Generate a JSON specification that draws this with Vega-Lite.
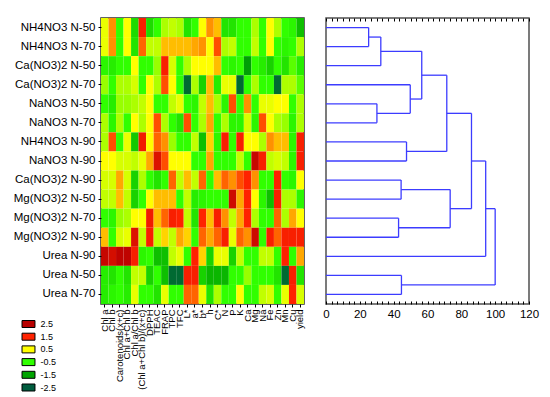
{
"$schema": "https://vega.github.io/schema/vega-lite/v6.json",
"background": "white",
"padding": {"left": 12, "top": 16, "right": 5, "bottom": 0},
"bounds": "flush",
"spacing": 22,
"config": {"font": "Liberation Sans", "axis": {"labelColor": "black", "tickColor": "black"}},
"hconcat": [
{
"width": 203, "height": 286,
"view": {"stroke": "#303030", "strokeWidth": 1.5},
"layer": [
{
"data": {"values": [
{"row":"NH4NO3 N-50","col":"Chl a","z":0.4},{"row":"NH4NO3 N-50","col":"Chl b","z":1.0},{"row":"NH4NO3 N-50","col":"Carotenoids(x+c)","z":-0.5},{"row":"NH4NO3 N-50","col":"Chl a+Chl b","z":0.5},{"row":"NH4NO3 N-50","col":"Chl a/Chl b","z":-0.9},{"row":"NH4NO3 N-50","col":"(Chl a+Chl b)/(x+c)","z":1.6},{"row":"NH4NO3 N-50","col":"DPPH","z":-0.9},{"row":"NH4NO3 N-50","col":"TEAC","z":-0.5},{"row":"NH4NO3 N-50","col":"FRAP","z":0.1},{"row":"NH4NO3 N-50","col":"TPC","z":0.2},{"row":"NH4NO3 N-50","col":"TFC","z":0.1},{"row":"NH4NO3 N-50","col":"L*","z":-0.8},{"row":"NH4NO3 N-50","col":"a*","z":-0.5},{"row":"NH4NO3 N-50","col":"b*","z":0.5},{"row":"NH4NO3 N-50","col":"h","z":1.0},{"row":"NH4NO3 N-50","col":"C*","z":0.8},{"row":"NH4NO3 N-50","col":"N","z":-0.8},{"row":"NH4NO3 N-50","col":"P","z":-0.8},{"row":"NH4NO3 N-50","col":"K","z":-0.5},{"row":"NH4NO3 N-50","col":"Ca","z":-0.5},{"row":"NH4NO3 N-50","col":"Mg","z":0.1},{"row":"NH4NO3 N-50","col":"Na","z":-0.5},{"row":"NH4NO3 N-50","col":"Fe","z":0.5},{"row":"NH4NO3 N-50","col":"Zn","z":0.1},{"row":"NH4NO3 N-50","col":"Mn","z":-0.5},{"row":"NH4NO3 N-50","col":"Cu","z":-0.6},{"row":"NH4NO3 N-50","col":"yield","z":-1.2},
{"row":"NH4NO3 N-70","col":"Chl a","z":0.4},{"row":"NH4NO3 N-70","col":"Chl b","z":1.0},{"row":"NH4NO3 N-70","col":"Carotenoids(x+c)","z":-0.5},{"row":"NH4NO3 N-70","col":"Chl a+Chl b","z":0.5},{"row":"NH4NO3 N-70","col":"Chl a/Chl b","z":-0.8},{"row":"NH4NO3 N-70","col":"(Chl a+Chl b)/(x+c)","z":1.2},{"row":"NH4NO3 N-70","col":"DPPH","z":0.2},{"row":"NH4NO3 N-70","col":"TEAC","z":0.2},{"row":"NH4NO3 N-70","col":"FRAP","z":0.8},{"row":"NH4NO3 N-70","col":"TPC","z":0.8},{"row":"NH4NO3 N-70","col":"TFC","z":0.8},{"row":"NH4NO3 N-70","col":"L*","z":0.8},{"row":"NH4NO3 N-70","col":"a*","z":0.9},{"row":"NH4NO3 N-70","col":"b*","z":1.0},{"row":"NH4NO3 N-70","col":"h","z":0.5},{"row":"NH4NO3 N-70","col":"C*","z":1.3},{"row":"NH4NO3 N-70","col":"N","z":0.1},{"row":"NH4NO3 N-70","col":"P","z":0.2},{"row":"NH4NO3 N-70","col":"K","z":-0.5},{"row":"NH4NO3 N-70","col":"Ca","z":-0.5},{"row":"NH4NO3 N-70","col":"Mg","z":0.2},{"row":"NH4NO3 N-70","col":"Na","z":-0.5},{"row":"NH4NO3 N-70","col":"Fe","z":0.5},{"row":"NH4NO3 N-70","col":"Zn","z":-0.5},{"row":"NH4NO3 N-70","col":"Mn","z":-0.6},{"row":"NH4NO3 N-70","col":"Cu","z":-0.5},{"row":"NH4NO3 N-70","col":"yield","z":0.1},
{"row":"Ca(NO3)2 N-50","col":"Chl a","z":-0.6},{"row":"Ca(NO3)2 N-50","col":"Chl b","z":-0.7},{"row":"Ca(NO3)2 N-50","col":"Carotenoids(x+c)","z":-0.5},{"row":"Ca(NO3)2 N-50","col":"Chl a+Chl b","z":-0.5},{"row":"Ca(NO3)2 N-50","col":"Chl a/Chl b","z":0.5},{"row":"Ca(NO3)2 N-50","col":"(Chl a+Chl b)/(x+c)","z":-0.5},{"row":"Ca(NO3)2 N-50","col":"DPPH","z":-0.5},{"row":"Ca(NO3)2 N-50","col":"TEAC","z":0.0},{"row":"Ca(NO3)2 N-50","col":"FRAP","z":1.6},{"row":"Ca(NO3)2 N-50","col":"TPC","z":0.3},{"row":"Ca(NO3)2 N-50","col":"TFC","z":-0.5},{"row":"Ca(NO3)2 N-50","col":"L*","z":0.1},{"row":"Ca(NO3)2 N-50","col":"a*","z":0.5},{"row":"Ca(NO3)2 N-50","col":"b*","z":0.5},{"row":"Ca(NO3)2 N-50","col":"h","z":0.5},{"row":"Ca(NO3)2 N-50","col":"C*","z":0.8},{"row":"Ca(NO3)2 N-50","col":"N","z":-0.5},{"row":"Ca(NO3)2 N-50","col":"P","z":-0.6},{"row":"Ca(NO3)2 N-50","col":"K","z":-0.5},{"row":"Ca(NO3)2 N-50","col":"Ca","z":-1.6},{"row":"Ca(NO3)2 N-50","col":"Mg","z":-0.5},{"row":"Ca(NO3)2 N-50","col":"Na","z":-0.7},{"row":"Ca(NO3)2 N-50","col":"Fe","z":-1.0},{"row":"Ca(NO3)2 N-50","col":"Zn","z":-0.5},{"row":"Ca(NO3)2 N-50","col":"Mn","z":-0.8},{"row":"Ca(NO3)2 N-50","col":"Cu","z":-0.3},{"row":"Ca(NO3)2 N-50","col":"yield","z":-0.7},
{"row":"Ca(NO3)2 N-70","col":"Chl a","z":0.0},{"row":"Ca(NO3)2 N-70","col":"Chl b","z":-0.5},{"row":"Ca(NO3)2 N-70","col":"Carotenoids(x+c)","z":0.1},{"row":"Ca(NO3)2 N-70","col":"Chl a+Chl b","z":0.1},{"row":"Ca(NO3)2 N-70","col":"Chl a/Chl b","z":0.3},{"row":"Ca(NO3)2 N-70","col":"(Chl a+Chl b)/(x+c)","z":-0.5},{"row":"Ca(NO3)2 N-70","col":"DPPH","z":0.5},{"row":"Ca(NO3)2 N-70","col":"TEAC","z":0.1},{"row":"Ca(NO3)2 N-70","col":"FRAP","z":1.3},{"row":"Ca(NO3)2 N-70","col":"TPC","z":0.5},{"row":"Ca(NO3)2 N-70","col":"TFC","z":-0.5},{"row":"Ca(NO3)2 N-70","col":"L*","z":-2.3},{"row":"Ca(NO3)2 N-70","col":"a*","z":0.1},{"row":"Ca(NO3)2 N-70","col":"b*","z":-1.0},{"row":"Ca(NO3)2 N-70","col":"h","z":0.8},{"row":"Ca(NO3)2 N-70","col":"C*","z":-0.7},{"row":"Ca(NO3)2 N-70","col":"N","z":0.4},{"row":"Ca(NO3)2 N-70","col":"P","z":0.4},{"row":"Ca(NO3)2 N-70","col":"K","z":-2.3},{"row":"Ca(NO3)2 N-70","col":"Ca","z":-0.5},{"row":"Ca(NO3)2 N-70","col":"Mg","z":0.1},{"row":"Ca(NO3)2 N-70","col":"Na","z":-0.5},{"row":"Ca(NO3)2 N-70","col":"Fe","z":-0.5},{"row":"Ca(NO3)2 N-70","col":"Zn","z":-2.3},{"row":"Ca(NO3)2 N-70","col":"Mn","z":0.1},{"row":"Ca(NO3)2 N-70","col":"Cu","z":0.1},{"row":"Ca(NO3)2 N-70","col":"yield","z":-0.3},
{"row":"NaNO3 N-50","col":"Chl a","z":-0.5},{"row":"NaNO3 N-50","col":"Chl b","z":-0.7},{"row":"NaNO3 N-50","col":"Carotenoids(x+c)","z":0.0},{"row":"NaNO3 N-50","col":"Chl a+Chl b","z":0.0},{"row":"NaNO3 N-50","col":"Chl a/Chl b","z":0.1},{"row":"NaNO3 N-50","col":"(Chl a+Chl b)/(x+c)","z":0.2},{"row":"NaNO3 N-50","col":"DPPH","z":0.5},{"row":"NaNO3 N-50","col":"TEAC","z":-0.5},{"row":"NaNO3 N-50","col":"FRAP","z":-0.5},{"row":"NaNO3 N-50","col":"TPC","z":0.2},{"row":"NaNO3 N-50","col":"TFC","z":0.4},{"row":"NaNO3 N-50","col":"L*","z":-0.5},{"row":"NaNO3 N-50","col":"a*","z":-0.6},{"row":"NaNO3 N-50","col":"b*","z":0.2},{"row":"NaNO3 N-50","col":"h","z":0.8},{"row":"NaNO3 N-50","col":"C*","z":0.1},{"row":"NaNO3 N-50","col":"N","z":-0.6},{"row":"NaNO3 N-50","col":"P","z":1.3},{"row":"NaNO3 N-50","col":"K","z":-0.5},{"row":"NaNO3 N-50","col":"Ca","z":1.0},{"row":"NaNO3 N-50","col":"Mg","z":-0.5},{"row":"NaNO3 N-50","col":"Na","z":0.4},{"row":"NaNO3 N-50","col":"Fe","z":0.4},{"row":"NaNO3 N-50","col":"Zn","z":0.5},{"row":"NaNO3 N-50","col":"Mn","z":0.5},{"row":"NaNO3 N-50","col":"Cu","z":-0.5},{"row":"NaNO3 N-50","col":"yield","z":0.1},
{"row":"NaNO3 N-70","col":"Chl a","z":0.1},{"row":"NaNO3 N-70","col":"Chl b","z":-0.6},{"row":"NaNO3 N-70","col":"Carotenoids(x+c)","z":0.1},{"row":"NaNO3 N-70","col":"Chl a+Chl b","z":-0.5},{"row":"NaNO3 N-70","col":"Chl a/Chl b","z":0.5},{"row":"NaNO3 N-70","col":"(Chl a+Chl b)/(x+c)","z":0.1},{"row":"NaNO3 N-70","col":"DPPH","z":0.5},{"row":"NaNO3 N-70","col":"TEAC","z":1.3},{"row":"NaNO3 N-70","col":"FRAP","z":0.1},{"row":"NaNO3 N-70","col":"TPC","z":-0.5},{"row":"NaNO3 N-70","col":"TFC","z":-0.8},{"row":"NaNO3 N-70","col":"L*","z":1.3},{"row":"NaNO3 N-70","col":"a*","z":-0.5},{"row":"NaNO3 N-70","col":"b*","z":0.1},{"row":"NaNO3 N-70","col":"h","z":0.9},{"row":"NaNO3 N-70","col":"C*","z":-0.5},{"row":"NaNO3 N-70","col":"N","z":0.1},{"row":"NaNO3 N-70","col":"P","z":-0.6},{"row":"NaNO3 N-70","col":"K","z":-0.6},{"row":"NaNO3 N-70","col":"Ca","z":0.3},{"row":"NaNO3 N-70","col":"Mg","z":-0.6},{"row":"NaNO3 N-70","col":"Na","z":1.3},{"row":"NaNO3 N-70","col":"Fe","z":0.5},{"row":"NaNO3 N-70","col":"Zn","z":0.1},{"row":"NaNO3 N-70","col":"Mn","z":0.0},{"row":"NaNO3 N-70","col":"Cu","z":-0.6},{"row":"NaNO3 N-70","col":"yield","z":0.1},
{"row":"NH4NO3 N-90","col":"Chl a","z":0.1},{"row":"NH4NO3 N-90","col":"Chl b","z":1.3},{"row":"NH4NO3 N-90","col":"Carotenoids(x+c)","z":-0.5},{"row":"NH4NO3 N-90","col":"Chl a+Chl b","z":0.4},{"row":"NH4NO3 N-90","col":"Chl a/Chl b","z":-1.1},{"row":"NH4NO3 N-90","col":"(Chl a+Chl b)/(x+c)","z":1.7},{"row":"NH4NO3 N-90","col":"DPPH","z":0.5},{"row":"NH4NO3 N-90","col":"TEAC","z":1.2},{"row":"NH4NO3 N-90","col":"FRAP","z":1.0},{"row":"NH4NO3 N-90","col":"TPC","z":0.0},{"row":"NH4NO3 N-90","col":"TFC","z":-0.5},{"row":"NH4NO3 N-90","col":"L*","z":-0.5},{"row":"NH4NO3 N-90","col":"a*","z":0.2},{"row":"NH4NO3 N-90","col":"b*","z":-1.2},{"row":"NH4NO3 N-90","col":"h","z":0.7},{"row":"NH4NO3 N-90","col":"C*","z":-0.6},{"row":"NH4NO3 N-90","col":"N","z":1.6},{"row":"NH4NO3 N-90","col":"P","z":-0.5},{"row":"NH4NO3 N-90","col":"K","z":1.6},{"row":"NH4NO3 N-90","col":"Ca","z":0.5},{"row":"NH4NO3 N-90","col":"Mg","z":0.5},{"row":"NH4NO3 N-90","col":"Na","z":0.1},{"row":"NH4NO3 N-90","col":"Fe","z":1.0},{"row":"NH4NO3 N-90","col":"Zn","z":0.8},{"row":"NH4NO3 N-90","col":"Mn","z":0.8},{"row":"NH4NO3 N-90","col":"Cu","z":-0.6},{"row":"NH4NO3 N-90","col":"yield","z":1.6},
{"row":"NaNO3 N-90","col":"Chl a","z":0.5},{"row":"NaNO3 N-90","col":"Chl b","z":0.5},{"row":"NaNO3 N-90","col":"Carotenoids(x+c)","z":0.3},{"row":"NaNO3 N-90","col":"Chl a+Chl b","z":0.3},{"row":"NaNO3 N-90","col":"Chl a/Chl b","z":0.2},{"row":"NaNO3 N-90","col":"(Chl a+Chl b)/(x+c)","z":0.4},{"row":"NaNO3 N-90","col":"DPPH","z":0.9},{"row":"NaNO3 N-90","col":"TEAC","z":2.0},{"row":"NaNO3 N-90","col":"FRAP","z":1.3},{"row":"NaNO3 N-90","col":"TPC","z":0.5},{"row":"NaNO3 N-90","col":"TFC","z":0.5},{"row":"NaNO3 N-90","col":"L*","z":0.5},{"row":"NaNO3 N-90","col":"a*","z":-0.5},{"row":"NaNO3 N-90","col":"b*","z":-0.5},{"row":"NaNO3 N-90","col":"h","z":0.9},{"row":"NaNO3 N-90","col":"C*","z":-0.5},{"row":"NaNO3 N-90","col":"N","z":-0.5},{"row":"NaNO3 N-90","col":"P","z":-0.5},{"row":"NaNO3 N-90","col":"K","z":0.2},{"row":"NaNO3 N-90","col":"Ca","z":-0.5},{"row":"NaNO3 N-90","col":"Mg","z":2.3},{"row":"NaNO3 N-90","col":"Na","z":1.6},{"row":"NaNO3 N-90","col":"Fe","z":0.2},{"row":"NaNO3 N-90","col":"Zn","z":0.3},{"row":"NaNO3 N-90","col":"Mn","z":0.2},{"row":"NaNO3 N-90","col":"Cu","z":-0.6},{"row":"NaNO3 N-90","col":"yield","z":1.6},
{"row":"Ca(NO3)2 N-90","col":"Chl a","z":0.3},{"row":"Ca(NO3)2 N-90","col":"Chl b","z":0.3},{"row":"Ca(NO3)2 N-90","col":"Carotenoids(x+c)","z":0.9},{"row":"Ca(NO3)2 N-90","col":"Chl a+Chl b","z":0.3},{"row":"Ca(NO3)2 N-90","col":"Chl a/Chl b","z":-1.0},{"row":"Ca(NO3)2 N-90","col":"(Chl a+Chl b)/(x+c)","z":0.1},{"row":"Ca(NO3)2 N-90","col":"DPPH","z":-0.5},{"row":"Ca(NO3)2 N-90","col":"TEAC","z":-0.8},{"row":"Ca(NO3)2 N-90","col":"FRAP","z":-0.5},{"row":"Ca(NO3)2 N-90","col":"TPC","z":1.2},{"row":"Ca(NO3)2 N-90","col":"TFC","z":0.2},{"row":"Ca(NO3)2 N-90","col":"L*","z":0.8},{"row":"Ca(NO3)2 N-90","col":"a*","z":0.2},{"row":"Ca(NO3)2 N-90","col":"b*","z":1.2},{"row":"Ca(NO3)2 N-90","col":"h","z":-0.5},{"row":"Ca(NO3)2 N-90","col":"C*","z":0.8},{"row":"Ca(NO3)2 N-90","col":"N","z":1.2},{"row":"Ca(NO3)2 N-90","col":"P","z":1.0},{"row":"Ca(NO3)2 N-90","col":"K","z":1.3},{"row":"Ca(NO3)2 N-90","col":"Ca","z":1.5},{"row":"Ca(NO3)2 N-90","col":"Mg","z":1.0},{"row":"Ca(NO3)2 N-90","col":"Na","z":-0.5},{"row":"Ca(NO3)2 N-90","col":"Fe","z":-0.5},{"row":"Ca(NO3)2 N-90","col":"Zn","z":1.5},{"row":"Ca(NO3)2 N-90","col":"Mn","z":-0.5},{"row":"Ca(NO3)2 N-90","col":"Cu","z":-0.6},{"row":"Ca(NO3)2 N-90","col":"yield","z":0.5},
{"row":"Mg(NO3)2 N-50","col":"Chl a","z":0.2},{"row":"Mg(NO3)2 N-50","col":"Chl b","z":0.2},{"row":"Mg(NO3)2 N-50","col":"Carotenoids(x+c)","z":0.8},{"row":"Mg(NO3)2 N-50","col":"Chl a+Chl b","z":0.2},{"row":"Mg(NO3)2 N-50","col":"Chl a/Chl b","z":-1.0},{"row":"Mg(NO3)2 N-50","col":"(Chl a+Chl b)/(x+c)","z":-0.5},{"row":"Mg(NO3)2 N-50","col":"DPPH","z":0.5},{"row":"Mg(NO3)2 N-50","col":"TEAC","z":0.8},{"row":"Mg(NO3)2 N-50","col":"FRAP","z":0.8},{"row":"Mg(NO3)2 N-50","col":"TPC","z":0.8},{"row":"Mg(NO3)2 N-50","col":"TFC","z":-0.5},{"row":"Mg(NO3)2 N-50","col":"L*","z":0.2},{"row":"Mg(NO3)2 N-50","col":"a*","z":-0.7},{"row":"Mg(NO3)2 N-50","col":"b*","z":-0.6},{"row":"Mg(NO3)2 N-50","col":"h","z":-0.5},{"row":"Mg(NO3)2 N-50","col":"C*","z":-0.5},{"row":"Mg(NO3)2 N-50","col":"N","z":-0.5},{"row":"Mg(NO3)2 N-50","col":"P","z":2.2},{"row":"Mg(NO3)2 N-50","col":"K","z":0.9},{"row":"Mg(NO3)2 N-50","col":"Ca","z":1.5},{"row":"Mg(NO3)2 N-50","col":"Mg","z":0.5},{"row":"Mg(NO3)2 N-50","col":"Na","z":-0.6},{"row":"Mg(NO3)2 N-50","col":"Fe","z":-1.2},{"row":"Mg(NO3)2 N-50","col":"Zn","z":1.6},{"row":"Mg(NO3)2 N-50","col":"Mn","z":0.1},{"row":"Mg(NO3)2 N-50","col":"Cu","z":0.1},{"row":"Mg(NO3)2 N-50","col":"yield","z":-0.6},
{"row":"Mg(NO3)2 N-70","col":"Chl a","z":-0.5},{"row":"Mg(NO3)2 N-70","col":"Chl b","z":-0.6},{"row":"Mg(NO3)2 N-70","col":"Carotenoids(x+c)","z":0.0},{"row":"Mg(NO3)2 N-70","col":"Chl a+Chl b","z":0.1},{"row":"Mg(NO3)2 N-70","col":"Chl a/Chl b","z":0.5},{"row":"Mg(NO3)2 N-70","col":"(Chl a+Chl b)/(x+c)","z":0.5},{"row":"Mg(NO3)2 N-70","col":"DPPH","z":1.7},{"row":"Mg(NO3)2 N-70","col":"TEAC","z":0.8},{"row":"Mg(NO3)2 N-70","col":"FRAP","z":1.2},{"row":"Mg(NO3)2 N-70","col":"TPC","z":1.6},{"row":"Mg(NO3)2 N-70","col":"TFC","z":1.5},{"row":"Mg(NO3)2 N-70","col":"L*","z":0.2},{"row":"Mg(NO3)2 N-70","col":"a*","z":-0.8},{"row":"Mg(NO3)2 N-70","col":"b*","z":1.5},{"row":"Mg(NO3)2 N-70","col":"h","z":0.8},{"row":"Mg(NO3)2 N-70","col":"C*","z":1.6},{"row":"Mg(NO3)2 N-70","col":"N","z":1.0},{"row":"Mg(NO3)2 N-70","col":"P","z":0.2},{"row":"Mg(NO3)2 N-70","col":"K","z":0.9},{"row":"Mg(NO3)2 N-70","col":"Ca","z":1.5},{"row":"Mg(NO3)2 N-70","col":"Mg","z":0.1},{"row":"Mg(NO3)2 N-70","col":"Na","z":-0.5},{"row":"Mg(NO3)2 N-70","col":"Fe","z":-0.5},{"row":"Mg(NO3)2 N-70","col":"Zn","z":1.2},{"row":"Mg(NO3)2 N-70","col":"Mn","z":0.1},{"row":"Mg(NO3)2 N-70","col":"Cu","z":0.9},{"row":"Mg(NO3)2 N-70","col":"yield","z":0.5},
{"row":"Mg(NO3)2 N-90","col":"Chl a","z":0.8},{"row":"Mg(NO3)2 N-90","col":"Chl b","z":-0.5},{"row":"Mg(NO3)2 N-90","col":"Carotenoids(x+c)","z":0.3},{"row":"Mg(NO3)2 N-90","col":"Chl a+Chl b","z":0.4},{"row":"Mg(NO3)2 N-90","col":"Chl a/Chl b","z":2.0},{"row":"Mg(NO3)2 N-90","col":"(Chl a+Chl b)/(x+c)","z":0.2},{"row":"Mg(NO3)2 N-90","col":"DPPH","z":1.6},{"row":"Mg(NO3)2 N-90","col":"TEAC","z":0.2},{"row":"Mg(NO3)2 N-90","col":"FRAP","z":0.7},{"row":"Mg(NO3)2 N-90","col":"TPC","z":0.2},{"row":"Mg(NO3)2 N-90","col":"TFC","z":0.9},{"row":"Mg(NO3)2 N-90","col":"L*","z":0.7},{"row":"Mg(NO3)2 N-90","col":"a*","z":-0.5},{"row":"Mg(NO3)2 N-90","col":"b*","z":1.2},{"row":"Mg(NO3)2 N-90","col":"h","z":0.9},{"row":"Mg(NO3)2 N-90","col":"C*","z":1.2},{"row":"Mg(NO3)2 N-90","col":"N","z":1.6},{"row":"Mg(NO3)2 N-90","col":"P","z":0.4},{"row":"Mg(NO3)2 N-90","col":"K","z":1.2},{"row":"Mg(NO3)2 N-90","col":"Ca","z":1.0},{"row":"Mg(NO3)2 N-90","col":"Mg","z":2.2},{"row":"Mg(NO3)2 N-90","col":"Na","z":-0.5},{"row":"Mg(NO3)2 N-90","col":"Fe","z":1.6},{"row":"Mg(NO3)2 N-90","col":"Zn","z":1.2},{"row":"Mg(NO3)2 N-90","col":"Mn","z":1.6},{"row":"Mg(NO3)2 N-90","col":"Cu","z":1.6},{"row":"Mg(NO3)2 N-90","col":"yield","z":1.6},
{"row":"Urea N-90","col":"Chl a","z":2.3},{"row":"Urea N-90","col":"Chl b","z":2.1},{"row":"Urea N-90","col":"Carotenoids(x+c)","z":2.4},{"row":"Urea N-90","col":"Chl a+Chl b","z":2.4},{"row":"Urea N-90","col":"Chl a/Chl b","z":1.6},{"row":"Urea N-90","col":"(Chl a+Chl b)/(x+c)","z":-0.6},{"row":"Urea N-90","col":"DPPH","z":-0.5},{"row":"Urea N-90","col":"TEAC","z":-1.2},{"row":"Urea N-90","col":"FRAP","z":-1.2},{"row":"Urea N-90","col":"TPC","z":0.2},{"row":"Urea N-90","col":"TFC","z":0.4},{"row":"Urea N-90","col":"L*","z":-0.5},{"row":"Urea N-90","col":"a*","z":1.5},{"row":"Urea N-90","col":"b*","z":0.7},{"row":"Urea N-90","col":"h","z":-1.0},{"row":"Urea N-90","col":"C*","z":0.4},{"row":"Urea N-90","col":"N","z":0.4},{"row":"Urea N-90","col":"P","z":-1.0},{"row":"Urea N-90","col":"K","z":0.2},{"row":"Urea N-90","col":"Ca","z":-0.5},{"row":"Urea N-90","col":"Mg","z":-0.5},{"row":"Urea N-90","col":"Na","z":0.2},{"row":"Urea N-90","col":"Fe","z":0.2},{"row":"Urea N-90","col":"Zn","z":-0.5},{"row":"Urea N-90","col":"Mn","z":1.5},{"row":"Urea N-90","col":"Cu","z":-0.5},{"row":"Urea N-90","col":"yield","z":0.9},
{"row":"Urea N-50","col":"Chl a","z":-0.7},{"row":"Urea N-50","col":"Chl b","z":-0.8},{"row":"Urea N-50","col":"Carotenoids(x+c)","z":-0.5},{"row":"Urea N-50","col":"Chl a+Chl b","z":-0.8},{"row":"Urea N-50","col":"Chl a/Chl b","z":0.2},{"row":"Urea N-50","col":"(Chl a+Chl b)/(x+c)","z":0.2},{"row":"Urea N-50","col":"DPPH","z":-1.0},{"row":"Urea N-50","col":"TEAC","z":-0.5},{"row":"Urea N-50","col":"FRAP","z":-1.2},{"row":"Urea N-50","col":"TPC","z":-2.3},{"row":"Urea N-50","col":"TFC","z":-2.3},{"row":"Urea N-50","col":"L*","z":1.6},{"row":"Urea N-50","col":"a*","z":1.6},{"row":"Urea N-50","col":"b*","z":-1.0},{"row":"Urea N-50","col":"h","z":-1.3},{"row":"Urea N-50","col":"C*","z":-1.3},{"row":"Urea N-50","col":"N","z":-1.3},{"row":"Urea N-50","col":"P","z":-0.5},{"row":"Urea N-50","col":"K","z":-0.5},{"row":"Urea N-50","col":"Ca","z":0.0},{"row":"Urea N-50","col":"Mg","z":-0.5},{"row":"Urea N-50","col":"Na","z":-0.5},{"row":"Urea N-50","col":"Fe","z":-0.5},{"row":"Urea N-50","col":"Zn","z":-0.8},{"row":"Urea N-50","col":"Mn","z":-2.3},{"row":"Urea N-50","col":"Cu","z":1.6},{"row":"Urea N-50","col":"yield","z":-0.8},
{"row":"Urea N-70","col":"Chl a","z":-0.7},{"row":"Urea N-70","col":"Chl b","z":-0.6},{"row":"Urea N-70","col":"Carotenoids(x+c)","z":-0.5},{"row":"Urea N-70","col":"Chl a+Chl b","z":-0.7},{"row":"Urea N-70","col":"Chl a/Chl b","z":0.4},{"row":"Urea N-70","col":"(Chl a+Chl b)/(x+c)","z":-0.5},{"row":"Urea N-70","col":"DPPH","z":-0.5},{"row":"Urea N-70","col":"TEAC","z":-0.8},{"row":"Urea N-70","col":"FRAP","z":0.4},{"row":"Urea N-70","col":"TPC","z":-0.5},{"row":"Urea N-70","col":"TFC","z":-0.5},{"row":"Urea N-70","col":"L*","z":1.2},{"row":"Urea N-70","col":"a*","z":1.2},{"row":"Urea N-70","col":"b*","z":0.4},{"row":"Urea N-70","col":"h","z":-0.8},{"row":"Urea N-70","col":"C*","z":0.1},{"row":"Urea N-70","col":"N","z":-0.5},{"row":"Urea N-70","col":"P","z":-0.5},{"row":"Urea N-70","col":"K","z":0.5},{"row":"Urea N-70","col":"Ca","z":-0.5},{"row":"Urea N-70","col":"Mg","z":-0.5},{"row":"Urea N-70","col":"Na","z":0.2},{"row":"Urea N-70","col":"Fe","z":0.3},{"row":"Urea N-70","col":"Zn","z":-0.5},{"row":"Urea N-70","col":"Mn","z":0.4},{"row":"Urea N-70","col":"Cu","z":1.5},{"row":"Urea N-70","col":"yield","z":0.3}
]},
"mark": {"type": "rect"},
"encoding": {
"x": {"field": "col", "type": "nominal",
 "sort": ["Chl a","Chl b","Carotenoids(x+c)","Chl a+Chl b","Chl a/Chl b","(Chl a+Chl b)/(x+c)","DPPH","TEAC","FRAP","TPC","TFC","L*","a*","b*","h","C*","N","P","K","Ca","Mg","Na","Fe","Zn","Mn","Cu","yield"],
 "scale": {"paddingInner": 0, "paddingOuter": 0},
 "axis": {"title": null, "domain": false, "labelAngle": 270, "labelFontSize": 9.5, "tickSize": 3, "labelPadding": 2, "labelOverlap": false}},
"y": {"field": "row", "type": "nominal",
 "sort": ["NH4NO3 N-50","NH4NO3 N-70","Ca(NO3)2 N-50","Ca(NO3)2 N-70","NaNO3 N-50","NaNO3 N-70","NH4NO3 N-90","NaNO3 N-90","Ca(NO3)2 N-90","Mg(NO3)2 N-50","Mg(NO3)2 N-70","Mg(NO3)2 N-90","Urea N-90","Urea N-50","Urea N-70"],
 "scale": {"paddingInner": 0, "paddingOuter": 0},
 "axis": {"title": null, "domain": false, "labelFontSize": 11.5, "tickSize": 3, "labelPadding": 3}},
"color": {"field": "z", "type": "quantitative",
 "scale": {"domain": [-2.5, -1.5, -0.5, 0.5, 1.5, 2.5], "range": ["#005c3e", "#00a400", "#30ff00", "#ffff00", "#ff2200", "#b80000"], "interpolate": "rgb", "clamp": true},
 "legend": null}
}
},
{
"data": {"values": [{"level": "2.5"}, {"level": "1.5"}, {"level": "0.5"}, {"level": "-0.5"}, {"level": "-1.5"}, {"level": "-2.5"}]},
"mark": {"type": "point", "filled": true, "opacity": 0},
"encoding": {
"fill": {"field": "level", "type": "nominal",
 "scale": {"domain": ["2.5", "1.5", "0.5", "-0.5", "-1.5", "-2.5"], "range": ["#b80000", "#ff2200", "#ffff00", "#30ff00", "#00a400", "#005c3e"]},
 "legend": {"title": null, "orient": "none", "legendX": -77, "legendY": 301.5, "padding": 0,
  "symbolType": "M-1.85,-1H1.85V1H-1.85Z", "symbolSize": 49, "symbolStrokeColor": "black", "symbolStrokeWidth": 1, "symbolOpacity": 1,
  "labelFontSize": 9, "labelColor": "black", "labelOffset": 7.5, "rowPadding": 1.7}}
}
}
]
},
{
"width": 203, "height": 286,
"view": {"stroke": "#505050", "strokeWidth": 1.5},
"data": {"values": [
{"x":0,"x2":25.2,"y":0.5,"y2":0.5},{"x":0,"x2":25.2,"y":1.5,"y2":1.5},{"x":25.2,"x2":25.2,"y":0.5,"y2":1.5},
{"x":25.2,"x2":32.4,"y":1.0,"y2":1.0},{"x":0,"x2":32.4,"y":2.5,"y2":2.5},{"x":32.4,"x2":32.4,"y":1.0,"y2":2.5},
{"x":0,"x2":30.1,"y":4.5,"y2":4.5},{"x":0,"x2":30.1,"y":5.5,"y2":5.5},{"x":30.1,"x2":30.1,"y":4.5,"y2":5.5},
{"x":0,"x2":49.8,"y":3.5,"y2":3.5},{"x":30.1,"x2":49.8,"y":5.0,"y2":5.0},{"x":49.8,"x2":49.8,"y":3.5,"y2":5.0},
{"x":32.4,"x2":56.6,"y":1.75,"y2":1.75},{"x":49.8,"x2":56.6,"y":4.25,"y2":4.25},{"x":56.6,"x2":56.6,"y":1.75,"y2":4.25},
{"x":0,"x2":47.6,"y":6.5,"y2":6.5},{"x":0,"x2":47.6,"y":7.5,"y2":7.5},{"x":47.6,"x2":47.6,"y":6.5,"y2":7.5},
{"x":56.6,"x2":71.4,"y":3.0,"y2":3.0},{"x":47.6,"x2":71.4,"y":7.0,"y2":7.0},{"x":71.4,"x2":71.4,"y":3.0,"y2":7.0},
{"x":0,"x2":44.4,"y":8.5,"y2":8.5},{"x":0,"x2":44.4,"y":9.5,"y2":9.5},{"x":44.4,"x2":44.4,"y":8.5,"y2":9.5},
{"x":0,"x2":42.9,"y":10.5,"y2":10.5},{"x":0,"x2":42.9,"y":11.5,"y2":11.5},{"x":42.9,"x2":42.9,"y":10.5,"y2":11.5},
{"x":44.4,"x2":73.4,"y":9.0,"y2":9.0},{"x":42.9,"x2":73.4,"y":11.0,"y2":11.0},{"x":73.4,"x2":73.4,"y":9.0,"y2":11.0},
{"x":71.4,"x2":86.0,"y":5.0,"y2":5.0},{"x":73.4,"x2":86.0,"y":10.0,"y2":10.0},{"x":86.0,"x2":86.0,"y":5.0,"y2":10.0},
{"x":86.0,"x2":94.4,"y":7.5,"y2":7.5},{"x":0,"x2":94.4,"y":12.5,"y2":12.5},{"x":94.4,"x2":94.4,"y":7.5,"y2":12.5},
{"x":0,"x2":44.6,"y":13.5,"y2":13.5},{"x":0,"x2":44.6,"y":14.5,"y2":14.5},{"x":44.6,"x2":44.6,"y":13.5,"y2":14.5},
{"x":94.4,"x2":100,"y":10.0,"y2":10.0},{"x":44.6,"x2":100,"y":14.0,"y2":14.0},{"x":100,"x2":100,"y":10.0,"y2":14.0}
]},
"layer": [
{
"mark": {"type": "rule", "color": "#3c3cff", "strokeWidth": 1.3},
"encoding": {
"x": {"field": "x", "type": "quantitative", "scale": {"domain": [0, 120], "nice": false, "zero": true},
 "axis": {"title": null, "grid": false, "domain": false, "orient": "bottom",
  "values": [0,3.333,6.667,10,13.333,16.667,20,23.333,26.667,30,33.333,36.667,40,43.333,46.667,50,53.333,56.667,60,63.333,66.667,70,73.333,76.667,80,83.333,86.667,90,93.333,96.667,100,103.333,106.667,110,113.333,116.667,120],
  "labelExpr": "datum.value % 20 == 0 ? datum.label : ''", "labelOverlap": false, "labelFlush": false,
  "tickSize": -3, "labelPadding": 7, "labelFontSize": 11.5}},
"x2": {"field": "x2"},
"y": {"field": "y", "type": "quantitative", "scale": {"domain": [0, 15], "reverse": true, "nice": false, "zero": false}, "axis": null},
"y2": {"field": "y2"}
}
},
{
"mark": {"type": "rule", "color": "#3c3cff", "strokeWidth": 1.3, "opacity": 0},
"encoding": {
"x": {"field": "x", "type": "quantitative",
 "axis": {"title": null, "grid": false, "domain": false, "orient": "top", "labels": false,
  "values": [0,3.333,6.667,10,13.333,16.667,20,23.333,26.667,30,33.333,36.667,40,43.333,46.667,50,53.333,56.667,60,63.333,66.667,70,73.333,76.667,80,83.333,86.667,90,93.333,96.667,100,103.333,106.667,110,113.333,116.667,120],
  "tickSize": -3}},
"x2": {"field": "x2"},
"y": {"field": "y", "type": "quantitative", "axis": null},
"y2": {"field": "y2"}
}
}
],
"resolve": {"axis": {"x": "independent"}}
}
]
}
